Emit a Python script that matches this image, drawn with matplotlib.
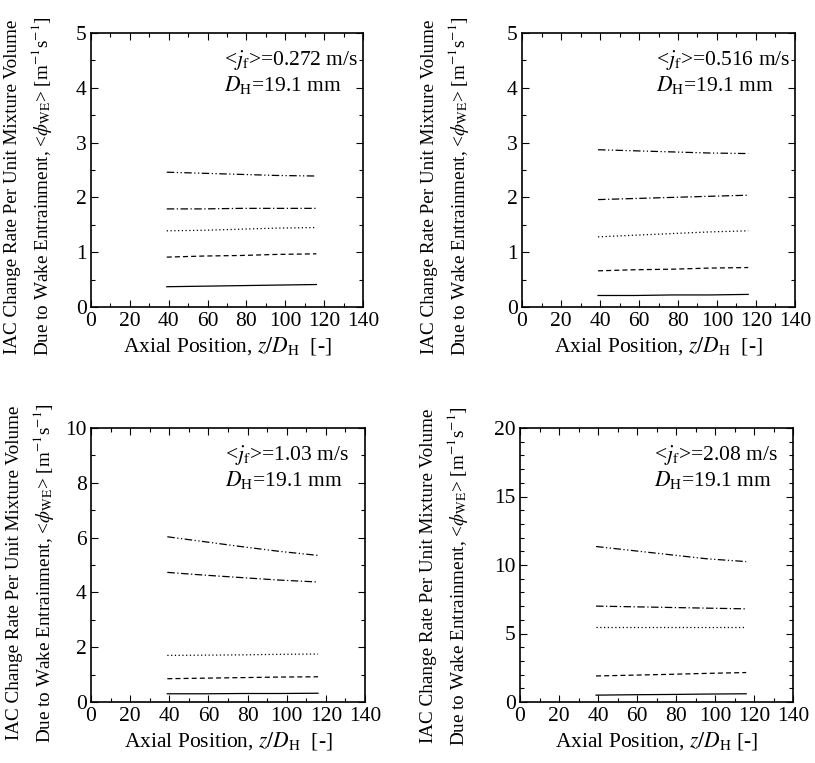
import matplotlib
matplotlib.use("Agg")
import matplotlib.pyplot as plt
from matplotlib.ticker import MultipleLocator

plt.rcParams['font.family'] = ['Liberation Serif', 'DejaVu Serif']
plt.rcParams['mathtext.fontset'] = 'stix'

z = [39, 58, 77, 96, 116]

# panel (a) <jf>=0.272
a_s1 = [0.37, 0.38, 0.39, 0.40, 0.41]
a_s2 = [0.91, 0.93, 0.94, 0.96, 0.97]
a_s3 = [1.39, 1.40, 1.42, 1.44, 1.45]
a_s4 = [1.79, 1.79, 1.80, 1.80, 1.80]
a_s5 = [2.46, 2.44, 2.42, 2.40, 2.39]
# panel (b) <jf>=0.516
b_s1 = [0.21, 0.21, 0.22, 0.22, 0.23]
b_s2 = [0.66, 0.68, 0.69, 0.71, 0.72]
b_s3 = [1.28, 1.31, 1.34, 1.37, 1.39]
b_s4 = [1.96, 1.98, 2.00, 2.02, 2.04]
b_s5 = [2.87, 2.85, 2.83, 2.81, 2.80]
# panel (c) <jf>=1.03
c_s1 = [0.30, 0.30, 0.31, 0.31, 0.32]
c_s2 = [0.85, 0.87, 0.89, 0.91, 0.92]
c_s3 = [1.70, 1.71, 1.72, 1.74, 1.75]
c_s4 = [4.73, 4.63, 4.54, 4.45, 4.38]
c_s5 = [6.03, 5.85, 5.67, 5.50, 5.35]
# panel (d) <jf>=2.08
d_s1 = [0.50, 0.53, 0.55, 0.58, 0.60]
d_s2 = [1.90, 1.96, 2.02, 2.09, 2.15]
d_s3 = [5.50, 5.50, 5.50, 5.50, 5.50]
d_s4 = [7.00, 6.95, 6.90, 6.85, 6.80]
d_s5 = [11.35, 11.05, 10.75, 10.45, 10.25]

panels = [
    ("0.272", [a_s1, a_s2, a_s3, a_s4, a_s5], 5, 1, 0.5, "  "),
    ("0.516", [b_s1, b_s2, b_s3, b_s4, b_s5], 5, 1, 0.5, "  "),
    ("1.03", [c_s1, c_s2, c_s3, c_s4, c_s5], 10, 2, 1, "  "),
    ("2.08", [d_s1, d_s2, d_s3, d_s4, d_s5], 20, 5, 1, " "),
]

styles = ['-', (0, (4, 2.5)), (0, (1, 2)), (0, (6, 2, 1, 2)), (0, (6, 2, 1, 2, 1, 2))]

W, H = 815, 763
fig = plt.figure(figsize=(W/100, H/100), dpi=100)
boxes = [(91, 33, 363, 307), (522, 33, 795, 307), (91, 428, 365, 702), (520, 428, 793, 702)]
ylab_pos = [(-0.228, 0.44), (-0.28, 0.44), (-0.22, 0.47), (-0.275, 0.46)]

ylabel = ("IAC Change Rate Per Unit Mixture Volume\n"
          r"Due to Wake Entrainment, <$\phi_{\mathrm{WE}}$> [m$^{\mathrm{-1}}$s$^{\mathrm{-1}}$]")

for (jf, series, ymax, ymaj, ymin, sp_), (l, t, r, b), (yx, yy) in zip(panels, boxes, ylab_pos):
    ax = fig.add_axes([l/W, 1 - b/H, (r-l)/W, (b-t)/H])
    for s, ls in zip(series, styles):
        ax.plot(z, s, color='black', lw=0.9, linestyle=ls)
    ax.set_xlim(0, 140)
    ax.set_ylim(0, ymax)
    ax.xaxis.set_major_locator(MultipleLocator(20))
    ax.xaxis.set_minor_locator(MultipleLocator(10))
    ax.yaxis.set_major_locator(MultipleLocator(ymaj))
    ax.yaxis.set_minor_locator(MultipleLocator(ymin))
    ax.tick_params(which='both', direction='in', top=True, right=True, labelsize=15.5)
    ax.tick_params(which='major', length=5, width=0.8)
    ax.tick_params(which='minor', length=3, width=0.8)
    ax.tick_params(axis='y', pad=3)
    for sp in ax.spines.values():
        sp.set_linewidth(1.2)
    ax.set_xlabel(r"Axial Position, $z/D_{\mathrm{H}}$" + sp_ + "[-]", fontsize=15.5, labelpad=3)
    ax.text(yx, yy, ylabel, transform=ax.transAxes, rotation=90, ha='center', va='center',
            multialignment='center', fontsize=13.8, linespacing=1.42)
    ax.text(0.49, 0.90, r"<$j_{\mathrm{f}}$>=" + jf + " m/s", transform=ax.transAxes,
            ha='left', va='center', fontsize=15.5)
    ax.text(0.49, 0.81, r"$D_{\mathrm{H}}$=19.1 mm", transform=ax.transAxes,
            ha='left', va='center', fontsize=15.5)

fig.savefig("out.png", dpi=100)
